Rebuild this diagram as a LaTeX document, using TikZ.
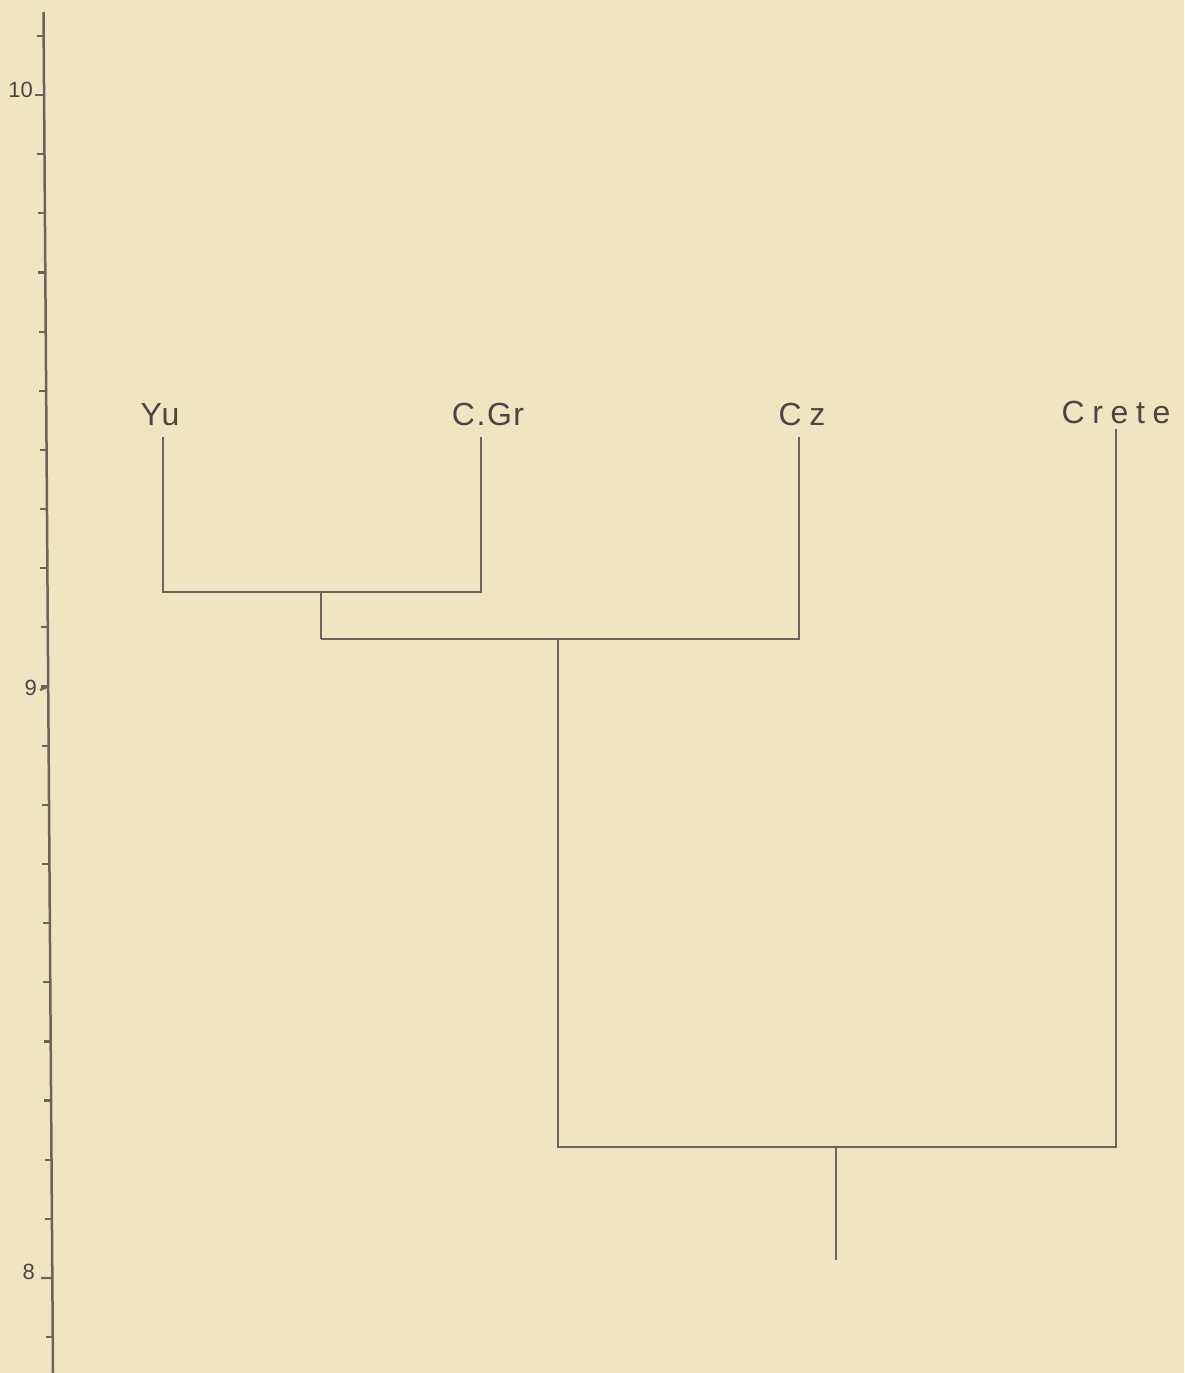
\documentclass[tikz,border=0pt]{standalone}
\usepackage{fontspec}
\setmainfont{Liberation Sans}
\newfontfamily\labwide[LetterSpace=24]{Liberation Sans}
\newfontfamily\labnarrow[LetterSpace=5]{Liberation Sans}
\definecolor{bgc}{HTML}{F0E5C1}
\definecolor{ink}{HTML}{6A645C}
\definecolor{txt}{HTML}{4B4642}
\begin{document}
\begin{tikzpicture}[x=1pt,y=-1pt,
  branch/.style={draw=ink,line width=2pt},
  axisline/.style={draw=ink,line width=2.5pt},
  tickmark/.style={draw=ink,line width=2.2pt},
  taxon/.style={text=txt, inner sep=0pt, anchor=base},
  ticklabel/.style={font=\fontsize{22}{22}\selectfont, text=txt, inner sep=0pt, anchor=base east}]
\fill[bgc] (0,0) rectangle (1184,1373);
\useasboundingbox (0,0) rectangle (1184,1373);
% axis
\coordinate (atop) at (43.5,12);
\coordinate (abot) at (53,1373);
\draw[axisline] (atop) -- (abot);
\foreach \k in {-1,...,21}{
  \pgfmathsetmacro\ty{95+59.15*\k}
  \pgfmathsetmacro\tx{43.5+9.5*(\ty-12)/1361}
  \coordinate (t\k) at (\tx,\ty);
  \coordinate (tl\k) at (\tx-7,\ty);
  \draw[tickmark] (t\k) -- (tl\k);
}
\coordinate (m10) at (35,95);
\coordinate (m9) at (40,690);
\coordinate (m8) at (41,1278);
\draw[tickmark] (t0) -- (m10);
\draw[tickmark] (t10) -- (m9);
\draw[tickmark] (t20) -- (m8);
\node[ticklabel] (l10) at (33,97) {10};
\node[ticklabel] (l9) at (37,695) {9};
\node[ticklabel] (l8) at (35,1279) {8};
% taxa labels
\node[taxon,font=\fontsize{32}{32}\selectfont\labnarrow] (nyu) at (160,425) {Yu};
\node[taxon,font=\fontsize{32}{32}\selectfont\labnarrow] (ncgr) at (488,425) {C.Gr};
\node[taxon,font=\fontsize{32}{32}\selectfont\labwide] (ncz) at (802,425) {Cz};
\node[taxon,font=\fontsize{32}{32}\selectfont\labwide] (ncr) at (1116,423) {Crete};
% tree
\coordinate (yu) at (163,437);
\coordinate (cgr) at (481,437);
\coordinate (cz) at (799,437);
\coordinate (cr) at (1116,429);
\coordinate (j1) at (321,592);
\coordinate (j2) at (558,639);
\coordinate (j3) at (836,1147);
\coordinate (root) at (836,1260);
\draw[branch] (yu) -- (yu |- j1) -- (cgr |- j1) -- (cgr);
\draw[branch] (j1) -- (j1 |- j2);
\draw[branch] (j1 |- j2) -- (cz |- j2) -- (cz);
\draw[branch] (j2) -- (j2 |- j3) -- (cr |- j3) -- (cr);
\draw[branch] (j3) -- (root);
\end{tikzpicture}
\end{document}
